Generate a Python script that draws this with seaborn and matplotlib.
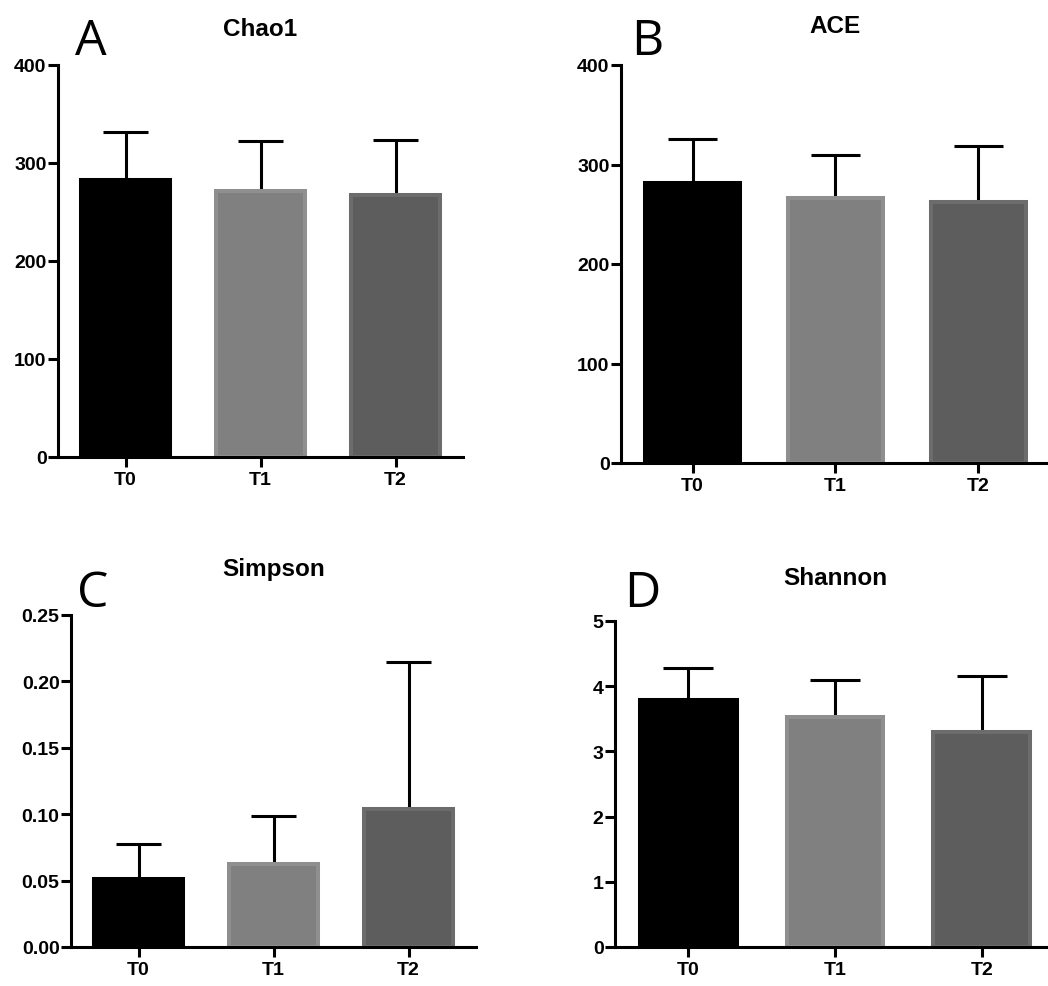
import matplotlib
matplotlib.use("Agg")
import matplotlib.pyplot as plt
import seaborn as sns
import numpy as np

# ---- data ----
groups = ["T0", "T1", "T2"]
chao1_mean = [283.0, 271.0, 267.0]
chao1_sd = [49.0, 51.8, 56.8]
ace_mean = [281.2, 266.7, 262.4]
ace_sd = [44.2, 43.0, 56.3]
simpson_mean = [0.0510, 0.0628, 0.1042]
simpson_sd = [0.0267, 0.0355, 0.1107]
shannon_mean = [3.79, 3.53, 3.30]
shannon_sd = [0.49, 0.57, 0.85]

titles = ["Chao1", "ACE", "Simpson", "Shannon"]
letters = ["A", "B", "C", "D"]
chao_ticks = [0, 100, 200, 300, 400]
ace_ticks = [0, 100, 200, 300, 400]
simpson_ticks = [0.00, 0.05, 0.10, 0.15, 0.20, 0.25]
simpson_ticklabels = ["0.00", "0.05", "0.10", "0.15", "0.20", "0.25"]
shannon_ticks = [0, 1, 2, 3, 4, 5]

face_colors = {"T0": "#000000", "T1": "#808080", "T2": "#5d5d5d"}
edge_colors = ["#000000", "#8f8f8f", "#6c6c6c"]

sns.set_style("white")
plt.rcParams["font.family"] = ["Liberation Sans", "DejaVu Sans"]
plt.rcParams["text.color"] = "black"
plt.rcParams["xtick.color"] = "black"
plt.rcParams["ytick.color"] = "black"
plt.rcParams["axes.labelcolor"] = "black"

W, H = 1048, 987
fig = plt.figure(figsize=(W / 100, H / 100), dpi=100)


def rect(l, t, r, b):
    return [l / W, 1 - b / H, (r - l) / W, (b - t) / H]


panels = [
    dict(rect=rect(58, 66, 463, 458), mean=chao1_mean, sd=chao1_sd, ticks=chao_ticks,
         labels=[str(t) for t in chao_ticks], pad=21.5, letter_xy=(75, 55)),
    dict(rect=rect(621, 66, 1050, 464), mean=ace_mean, sd=ace_sd, ticks=ace_ticks,
         labels=[str(t) for t in ace_ticks], pad=24, letter_xy=(631, 55)),
    dict(rect=rect(71, 616, 476, 948), mean=simpson_mean, sd=simpson_sd, ticks=simpson_ticks,
         labels=simpson_ticklabels, pad=29, letter_xy=(77, 607)),
    dict(rect=rect(615, 622, 1055, 948), mean=shannon_mean, sd=shannon_sd, ticks=shannon_ticks,
         labels=[str(t) for t in shannon_ticks], pad=26.5, letter_xy=(624, 607)),
]

for i, p in enumerate(panels):
    ax = fig.add_axes(p["rect"])
    sns.barplot(x=groups, y=p["mean"], hue=groups, palette=face_colors, legend=False,
                width=0.66, ax=ax, zorder=3)
    for patch, ec in zip(ax.patches, edge_colors):
        patch.set_edgecolor(ec)
        patch.set_linewidth(2.9)
    xs = np.arange(len(groups))
    means = np.array(p["mean"])
    tops = means + np.array(p["sd"])
    ax.vlines(xs, means, tops, color="black", lw=2.2, zorder=2)
    ax.hlines(tops, xs - 0.17, xs + 0.17, color="black", lw=2.2, zorder=2)

    ax.set_xlim(-0.5, 2.5)
    ax.set_ylim(p["ticks"][0], p["ticks"][-1])
    ax.set_yticks(p["ticks"])
    ax.set_yticklabels(p["labels"])
    ax.set_xticks(xs)
    ax.set_xticklabels(groups)
    ax.set_xlabel("")
    ax.set_ylabel("")
    for s in ["top", "right"]:
        ax.spines[s].set_visible(False)
    for s in ["left", "bottom"]:
        ax.spines[s].set_linewidth(2.2)
        ax.spines[s].set_color("black")
        ax.spines[s].set_zorder(5)
    ax.tick_params(axis="both", which="major", direction="out", length=7.2, width=2.2,
                   color="black", labelcolor="black", labelsize=14)
    ax.tick_params(axis="y", pad=1)
    ax.tick_params(axis="x", pad=3)
    ax.tick_params(left=True, bottom=True)
    for lab in ax.get_xticklabels() + ax.get_yticklabels():
        lab.set_fontweight("bold")
    ax.set_title(titles[i], fontsize=17.5, fontweight="bold", color="black", pad=p["pad"])
    lx, ly = p["letter_xy"]
    fig.text(lx / W, 1 - ly / H, letters[i], fontsize=36, color="black",
             family=["Open Sans", "DejaVu Sans"], ha="left", va="baseline")

fig.savefig("out.png", dpi=100)
